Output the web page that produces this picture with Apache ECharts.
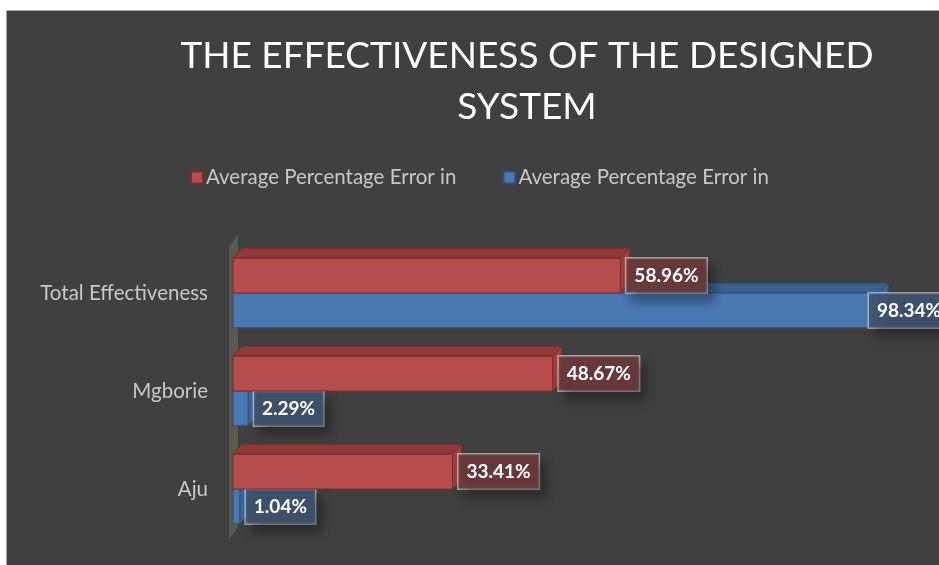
<!DOCTYPE html>
<html>
<head>
<meta charset="utf-8">
<script src="https://cdn.jsdelivr.net/npm/echarts@6/dist/echarts.min.js"></script>
<style>
  html, body { margin: 0; padding: 0; background: #fff; }
  #main {
    position: absolute; left: 6px; top: 10px;
    width: 933px; height: 555px;
    border-top: 1px solid #a6a6a6; border-left: 1px solid #a6a6a6;
    background: #404040;
  }
</style>
</head>
<body>
<div id="main"></div>
<script>
// 数据
const categories = ['Total Effectiveness', 'Mgborie', 'Aju']
const seriesNames = ['Average Percentage Error in', 'Average Percentage Error in ']
const redValues = [58.96, 48.67, 33.41]
const blueValues = [98.34, 2.29, 1.04]

const FONT = 'Lato'
const chartDom = document.getElementById('main')
const myChart = echarts.init(chartDom)

// 3D柱子的配色
const palettes = [
  { front: '#b54e4d', top: '#8f3a3a', side: '#9c4140', line: '#7c2b2b', box: 'rgba(108,58,58,0.92)' },
  { front: '#4a78b1', top: '#3b618f', side: '#3f6697', line: '#2f4f78', box: 'rgba(62,84,112,0.92)' }
]

const makeRender = (idx) => (params, api) => {
  const cat = api.value(1)
  const val = api.value(0)
  const base = api.coord([0, cat])
  const end = api.coord([val, cat])
  const band = api.size([0, 1])[1]
  const h = band * 0.355
  const y0 = idx === 0 ? base[1] - h : base[1]
  const x0 = base[0], x1 = end[0]
  const dx = 9, dy = -10
  const p = palettes[idx]
  const lx = Math.min(x1 + 6, api.getWidth() - 71)
  return {
    type: 'group',
    children: [
      { type: 'polygon', shape: { points: [[x0, y0], [x1, y0], [x1 + dx, y0 + dy], [x0 + dx, y0 + dy]] },
        style: { fill: p.top, stroke: p.line, lineWidth: 1 } },
      { type: 'polygon', shape: { points: [[x1, y0], [x1 + dx, y0 + dy], [x1 + dx, y0 + dy + h], [x1, y0 + h]] },
        style: { fill: p.side, stroke: p.line, lineWidth: 1 } },
      { type: 'rect', shape: { x: x0, y: y0, width: x1 - x0, height: h },
        style: { fill: p.front, stroke: p.line, lineWidth: 1 } },
      { type: 'text', x: lx, y: y0 + h / 2, z2: 10,
        style: {
          text: val.toFixed(2) + '%', fill: '#fff', font: 'bold 19px ' + FONT,
          align: 'left', verticalAlign: 'middle',
          backgroundColor: p.box, borderColor: 'rgba(230,230,230,0.6)', borderWidth: 1.5,
          padding: [8, 8, 7, 8],
          shadowColor: 'rgba(0,0,0,0.35)', shadowBlur: 10, shadowOffsetX: 6, shadowOffsetY: 8
        } }
    ]
  }
}

const toData = (arr) => arr.map((v, i) => [v, i])

const option = {
  backgroundColor: '#404040',
  title: {
    text: 'THE EFFECTIVENESS OF THE DESIGNED\nSYSTEM',
    left: 515, top: 15, textAlign: 'center',
    textStyle: { color: '#fff', fontFamily: FONT, fontWeight: 'normal', fontSize: 37, lineHeight: 51 }
  },
  legend: {
    data: seriesNames,
    left: 178, top: 151,
    icon: 'rect', itemWidth: 12, itemHeight: 12, itemGap: 46,
    formatter: (n) => n.trim(),
    textStyle: { color: '#c8c8c8', fontFamily: FONT, fontSize: 20.5, padding: [0, 0, 0, -2] }
  },
  grid: { left: 226, right: 50, top: 233, bottom: 28 },
  xAxis: { type: 'value', min: 0, max: 100, show: false },
  yAxis: {
    type: 'category', data: categories, inverse: true,
    axisLine: { show: false }, axisTick: { show: false }, splitLine: { show: false },
    axisLabel: { color: '#c8c8c8', fontFamily: FONT, fontSize: 20.5, margin: 25, padding: [5, 0, 0, 0] }
  },
  series: [
    {
      // 后墙
      type: 'custom', silent: true, z: 1, data: [[0, 0]],
      renderItem: (params) => {
        const cs = params.coordSys
        const x = cs.x - 4, yt = cs.y + 3, yb = cs.y + cs.height + 1
        return { type: 'polygon', shape: { points: [[x, yt], [x + 9, yt - 13], [x + 9, yb - 12], [x, yb]] },
          style: { fill: '#5a5a4f' } }
      }
    },
    {
      name: seriesNames[0], type: 'custom', z: 3,
      itemStyle: { color: palettes[0].front, borderColor: palettes[0].line, borderWidth: 1 },
      data: toData(redValues), renderItem: makeRender(0)
    },
    {
      name: seriesNames[1], type: 'custom', z: 2,
      itemStyle: { color: palettes[1].front, borderColor: palettes[1].line, borderWidth: 1 },
      data: toData(blueValues), renderItem: makeRender(1)
    }
  ]
}

option && myChart.setOption(option)
</script>
</body>
</html>
